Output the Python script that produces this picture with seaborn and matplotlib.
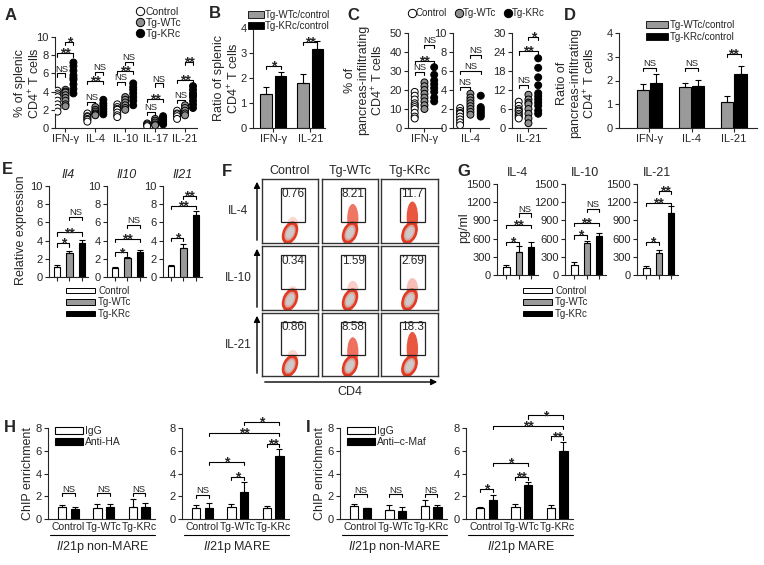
import numpy as np
import pandas as pd
import matplotlib
matplotlib.use('Agg')
import matplotlib.pyplot as plt
from matplotlib.patches import Patch, Rectangle, Ellipse
from matplotlib.lines import Line2D
import seaborn as sns

groups = ['Control', 'Tg-WTc', 'Tg-KRc']
group_colors = ['white', '#9a9a9a', 'black']

# A: % of splenic CD4+ T cells, per cytokine: [control, Tg-WTc, Tg-KRc]
a_cytokines = ['IFN-γ', 'IL-4', 'IL-10', 'IL-17', 'IL-21']
a_ifng = [[4.1, 3.8, 3.6, 3.4, 3.0, 2.6, 2.2, 1.8],
          [4.2, 4.0, 3.9, 3.6, 3.3, 3.0, 2.6, 2.4],
          [7.2, 6.8, 6.3, 5.8, 5.5, 5.3, 4.8, 4.3, 3.8]]
a_il4 = [[1.6, 1.3, 1.2, 1.0, 0.9, 0.7],
         [2.3, 2.0, 1.8, 1.6, 1.5, 1.4],
         [3.1, 2.7, 2.4, 2.1, 1.8, 1.5]]
a_il10 = [[2.6, 2.3, 2.1, 2.0, 1.7, 1.4, 1.2],
          [3.4, 3.1, 2.8, 2.5, 2.2, 2.0],
          [4.9, 4.5, 4.2, 3.8, 3.4, 3.0, 2.5]]
a_il17 = [[0.5, 0.4, 0.3, 0.2],
          [1.0, 0.8, 0.6, 0.4, 0.3],
          [1.3, 1.1, 0.9, 0.7, 0.5, 0.4]]
a_il21 = [[1.9, 1.6, 1.5, 1.3, 1.0],
          [2.5, 2.2, 1.9, 1.6, 1.4],
          [4.6, 4.2, 3.8, 3.6, 3.4, 3.0, 2.6, 2.2]]
a_sig = [(0, 0, 1, 6.0, 'NS'), (0, 0, 2, 8.2, '**'), (0, 1, 2, 9.45, '*'),
         (1, 0, 1, 2.85, 'NS'), (1, 0, 2, 5.2, '**'), (1, 1, 2, 6.15, 'NS'),
         (2, 0, 1, 5.05, 'NS'), (2, 0, 2, 6.3, '**'), (2, 1, 2, 7.25, 'NS'),
         (3, 0, 1, 1.75, 'NS'), (3, 0, 2, 3.2, '**'), (3, 1, 2, 4.9, 'NS'),
         (4, 0, 1, 3.1, 'NS'), (4, 0, 2, 5.3, '**'), (4, 1, 2, 7.25, '**')]

# B: ratio of splenic CD4+ T cells
b_cats = ['IFN-γ', 'IL-21']
b_wtc = [1.35, 1.8]
b_wtc_err = [0.3, 0.37]
b_krc = [2.1, 3.15]
b_krc_err = [0.15, 0.35]
b_sig = [(0, 2.5, '*'), (1, 3.45, '**')]

# C: % of pancreas-infiltrating CD4+ T cells
c_cytokines = ['IFN-γ', 'IL-4', 'IL-21']
c_ifng = [[19, 17, 15, 13, 12, 11, 10, 8, 6, 5],
          [24, 22, 20, 18, 16, 14, 12, 10],
          [32, 28, 25, 23, 21, 19, 16, 14]]
c_il4 = [[2.1, 1.8, 1.6, 1.5, 1.2, 0.9, 0.6, 0.3],
         [3.6, 3.2, 2.9, 2.6, 2.3, 2.0, 1.7, 1.4],
         [3.4, 2.2, 2.0, 1.8, 1.6, 1.4, 1.2]]
c_il21 = [[8.3, 7.0, 6.0, 5.5, 5.2, 4.5, 4.0, 3.5, 3.0],
          [10.5, 9.0, 8.0, 7.5, 6.0, 4.5, 3.0, 1.5],
          [22, 19, 16, 13.5, 11, 10, 9, 8, 7, 5.5, 4.5]]
c_ylims = [50, 10, 30]
c_yticks = [[0, 10, 20, 30, 40, 50], [0, 2, 4, 6, 8, 10], [0, 6, 12, 18, 24, 30]]
c_sig = [[(0, 1, 29.7, 'NS'), (0, 2, 35.5, '**'), (1, 2, 43.8, 'NS')],
         [(0, 1, 4.3, 'NS'), (0, 2, 6.0, 'NS'), (1, 2, 7.7, 'NS')],
         [(0, 1, 13.6, 'NS'), (0, 2, 24.2, '**'), (1, 2, 28.7, '*')]]

# D: ratio of pancreas-infiltrating CD4+ T cells
d_cats = ['IFN-γ', 'IL-4', 'IL-21']
d_wtc = [1.6, 1.72, 1.08]
d_wtc_err = [0.24, 0.17, 0.25]
d_krc = [1.88, 1.78, 2.28]
d_krc_err = [0.4, 0.24, 0.34]
d_sig = [(0, 2.52, 'NS'), (1, 2.52, 'NS'), (2, 3.12, '**')]

# E: relative expression
e_genes = ['Il4', 'Il10', 'Il21']
e_means = [[1.1, 2.6, 3.7], [1.0, 2.1, 2.8], [1.2, 3.15, 6.8]]
e_errs = [[0.2, 0.3, 0.35], [0.08, 0.15, 0.2], [0.15, 0.45, 0.4]]
e_sig = [[(0, 1, 3.7, '*'), (0, 2, 4.9, '**'), (1, 2, 6.6, 'NS')],
         [(0, 1, 2.7, '*'), (0, 2, 4.2, '**'), (1, 2, 5.7, 'NS')],
         [(0, 1, 4.3, '*'), (0, 2, 7.8, '**'), (1, 2, 8.9, '**')]]

# F: flow gates (%), rows IL-4 / IL-10 / IL-21
f_rows = ['IL-4', 'IL-10', 'IL-21']
f_gate = [[0.76, 8.21, 11.7], [0.34, 1.59, 2.69], [0.86, 8.58, 18.3]]

# G: ELISA pg/ml
g_cytokines = ['IL-4', 'IL-10', 'IL-21']
g_means = [[140, 375, 465], [170, 525, 635], [118, 360, 1020]]
g_errs = [[20, 100, 80], [38, 38, 55], [25, 55, 120]]
g_sig = [[(0, 1, 549, '*'), (0, 2, 824, '**'), (1, 2, 1016, 'NS')],
         [(0, 1, 654, '*'), (0, 2, 856, '**'), (1, 2, 1091, 'NS')],
         [(0, 1, 545, '*'), (0, 2, 1189, '**'), (1, 2, 1380, '**')]]

# H / I: ChIP enrichment
h_non_igg = [1.03, 0.94, 1.09]
h_non_igg_err = [0.2, 0.35, 0.65]
h_non_ha = [0.88, 1.03, 1.03]
h_non_ha_err = [0.15, 0.26, 0.35]
h_mare_igg = [0.94, 1.09, 1.0]
h_mare_igg_err = [0.3, 0.25, 0.12]
h_mare_ha = [1.0, 2.35, 5.5]
h_mare_ha_err = [0.38, 0.9, 0.65]
h_mare_sig = [(0, 0, 0, 1, 2.12, 'NS'), (1, 0, 1, 1, 3.68, '*'), (0, 1, 1, 1, 5.0, '*'),
              (2, 0, 2, 1, 6.62, '**'), (0, 1, 2, 1, 7.56, '**'), (1, 1, 2, 1, 8.53, '*')]
i_non_igg = [1.1, 0.79, 1.12]
i_non_igg_err = [0.25, 0.4, 0.56]
i_non_maf = [0.97, 0.7, 1.06]
i_non_maf_err = [0.03, 0.33, 0.18]
i_mare_igg = [1.0, 1.03, 1.0]
i_mare_igg_err = [0.09, 0.26, 0.24]
i_mare_maf = [1.68, 3.0, 6.0]
i_mare_maf_err = [0.44, 0.24, 0.76]
i_mare_sig = [(0, 0, 0, 1, 2.65, '*'), (1, 0, 1, 1, 3.68, '**'), (0, 1, 1, 1, 4.91, '*'),
              (2, 0, 2, 1, 7.26, '**'), (0, 1, 2, 1, 8.15, '**'), (1, 1, 2, 1, 9.1, '*')]

W, H = 764, 565
sns.set_style('ticks')
plt.rcParams['font.family'] = ['Liberation Sans', 'DejaVu Sans']
plt.rcParams['mathtext.fontset'] = 'custom'
plt.rcParams['mathtext.rm'] = 'Liberation Sans'
plt.rcParams['mathtext.it'] = 'Liberation Sans:italic'
plt.rcParams['axes.linewidth'] = 0.8

fig = plt.figure(figsize=(W / 100, H / 100), dpi=100)
ov = fig.add_axes([0, 0, 1, 1])
ov.set_xlim(0, W)
ov.set_ylim(H, 0)
ov.axis('off')


def px_axes(x0, y0, x1, y1):
  return fig.add_axes([x0 / W, 1 - y1 / H, (x1 - x0) / W, (y1 - y0) / H])


def style(ax, ymax, yticks):
  ax.set_ylim(0, ymax)
  ax.set_yticks(yticks)
  sns.despine(ax=ax)
  ax.tick_params(direction='out', length=3, width=0.8, labelsize=8, pad=1.5)
  ax.set_xlabel('')
  ax.set_ylabel('')
  ax.patch.set_alpha(0)


def bracket(ax, x1, x2, y, txt):
  dh = 0.035 * ax.get_ylim()[1]
  ax.plot([x1, x1, x2, x2], [y - dh, y, y, y - dh], color='black', lw=0.8, clip_on=False)
  if 'NS' in txt:
    ax.annotate(txt, ((x1 + x2) / 2, y), xytext=(0, 1.2), textcoords='offset points',
                ha='center', va='baseline', fontsize=6.8, annotation_clip=False)
  else:
    ax.annotate(txt, ((x1 + x2) / 2, y), xytext=(0, -3.3), textcoords='offset points',
                ha='center', va='baseline', fontsize=10, fontweight='bold',
                annotation_clip=False)


def dot_panel(ax, cats, lists):
  rows = []
  for cat, vals in zip(cats, lists):
    for g, v in zip(groups, vals):
      for x in v:
        rows.append((cat, g, x))
  df = pd.DataFrame(rows, columns=['cytokine', 'group', 'value'])
  sns.stripplot(data=df, x='cytokine', y='value', hue='group', hue_order=groups,
                palette=['white', '#8f8f8f', 'black'], dodge=True, jitter=False,
                size=5, edgecolor='black', linewidth=0.7, legend=False, ax=ax)


def group_bars(ax, means, errs, width=0.72, gap=0.28):
  df = pd.DataFrame({'group': groups, 'value': means})
  sns.barplot(data=df, x='group', y='value', hue='group', order=groups, hue_order=groups,
              palette=group_colors, width=width, gap=gap, edgecolor='black',
              linewidth=0.8, errorbar=None, legend=False, ax=ax)
  for cont, e in zip(ax.containers, errs):
    for bar in cont:
      ax.errorbar(bar.get_x() + bar.get_width() / 2, bar.get_height(), yerr=[[0], [e]],
                  color='black', capsize=2, lw=0.8, capthick=0.8)


def pair_bars(ax, cats, hues, first, first_err, second, second_err, colors, width, gap):
  df = pd.DataFrame({'cat': cats * 2, 'hue': [hues[0]] * len(cats) + [hues[1]] * len(cats),
                     'value': first + second})
  sns.barplot(data=df, x='cat', y='value', hue='hue', order=cats, hue_order=hues,
              palette=colors, width=width, gap=gap, edgecolor='black', linewidth=0.8,
              errorbar=None, legend=False, ax=ax)
  for cont, errs in zip(ax.containers, [first_err, second_err]):
    for bar, e in zip(cont, errs):
      ax.errorbar(bar.get_x() + bar.get_width() / 2, bar.get_height(), yerr=[[0], [e]],
                  color='black', capsize=2, lw=0.8, capthick=0.8)


dot_handles = [Line2D([], [], ls='', marker='o', ms=6, mfc=c, mec='black', mew=0.7)
               for c in ['white', '#8f8f8f', 'black']]

# ---- A
ax = px_axes(55, 37, 197, 128)
dot_panel(ax, a_cytokines, [a_ifng, a_il4, a_il10, a_il17, a_il21])
style(ax, 10, [0, 2, 4, 6, 8, 10])
ax.set_xlim(-0.35, 4.4)
off = 0.8 / 3
for c, g1, g2, y, t in a_sig:
  bracket(ax, c + (g1 - 1) * off, c + (g2 - 1) * off, y, t)
ov.text(28, 83, '% of splenic\nCD4$^{+}$ T cells', rotation=90, ha='center', va='center',
        fontsize=9, linespacing=1.1)
fig.legend(dot_handles, groups, loc='upper left', bbox_to_anchor=(137 / W, 1 - 7 / H),
           frameon=False, fontsize=7.5, handlelength=0.6, handletextpad=0.2,
           labelspacing=0.1, borderpad=0, borderaxespad=0)

# ---- B
ax = px_axes(253, 28, 325, 128)
pair_bars(ax, b_cats, ['Tg-WTc/control', 'Tg-KRc/control'], b_wtc, b_wtc_err, b_krc,
          b_krc_err, ['#9a9a9a', 'black'], 0.78, 0.2)
style(ax, 4, [0, 1, 2, 3, 4])
ax.set_xlim(-0.55, 1.4)
for c, y, t in b_sig:
  bracket(ax, c - 0.195, c + 0.195, y, t)
ov.text(227, 78, 'Ratio of splenic\nCD4$^{+}$ T cells', rotation=90, ha='center',
        va='center', fontsize=9, linespacing=1.1)
fig.legend([Patch(fc='#9a9a9a', ec='black', lw=0.6), Patch(fc='black', ec='black', lw=0.6)],
           ['Tg-WTc/control', 'Tg-KRc/control'], loc='upper left',
           bbox_to_anchor=(248 / W, 1 - 10 / H), frameon=False, fontsize=7,
           handlelength=1.6, handleheight=0.6, handletextpad=0.1, labelspacing=0.1,
           borderpad=0, borderaxespad=0)

# ---- C
c_pos = [(408, 442), (453, 489), (512, 546)]
for k, (cyt, lists) in enumerate(zip(c_cytokines, [c_ifng, c_il4, c_il21])):
  ax = px_axes(c_pos[k][0], 33, c_pos[k][1], 128)
  dot_panel(ax, [cyt], [lists])
  style(ax, c_ylims[k], c_yticks[k])
  ax.set_xlim(-0.45, 0.48)
  for g1, g2, y, t in c_sig[k]:
    bracket(ax, (g1 - 1) * off, (g2 - 1) * off, y, t)
ov.text(365, 80, '% of\npancreas-infiltrating\nCD4$^{+}$ T cells', rotation=90,
        ha='center', va='center', fontsize=9, linespacing=1.1)
fig.legend(dot_handles, groups, loc='upper left', bbox_to_anchor=(409 / W, 1 - 8 / H),
           ncol=3, frameon=False, fontsize=7, handlelength=0.6, handletextpad=0.1,
           columnspacing=0.9, borderpad=0, borderaxespad=0)

# ---- D
ax = px_axes(619, 33, 757, 128)
pair_bars(ax, d_cats, ['Tg-WTc/control', 'Tg-KRc/control'], d_wtc, d_wtc_err, d_krc,
          d_krc_err, ['#9a9a9a', 'black'], 0.64, 0.1)
style(ax, 4, [0, 1, 2, 3, 4])
ax.set_xlim(-0.72, 2.55)
for c, y, t in d_sig:
  bracket(ax, c - 0.16, c + 0.16, y, t)
ov.text(577, 83, 'Ratio of\npancreas-infiltrating\nCD4$^{+}$ T cells', rotation=90,
        ha='center', va='center', fontsize=9, linespacing=1.1)
fig.legend([Patch(fc='#9a9a9a', ec='black', lw=0.6), Patch(fc='black', ec='black', lw=0.6)],
           ['Tg-WTc/control', 'Tg-KRc/control'], loc='upper left',
           bbox_to_anchor=(646 / W, 1 - 20 / H), frameon=False, fontsize=7,
           handlelength=2.3, handleheight=0.6, handletextpad=0.1, labelspacing=0.2,
           borderpad=0, borderaxespad=0)

bar_handles = [Patch(fc=c, ec='black', lw=0.7) for c in group_colors]

# ---- E
for k, x0 in enumerate([49, 107, 163]):
  ax = px_axes(x0, 186, x0 + 39, 277)
  group_bars(ax, e_means[k], e_errs[k])
  style(ax, 10, [0, 2, 4, 6, 8, 10])
  ax.set_xlim(-0.65, 2.5)
  ax.set_xticklabels([])
  ax.set_title(e_genes[k], fontsize=9, style='italic', pad=6)
  for g1, g2, y, t in e_sig[k]:
    bracket(ax, g1, g2, y, t)
ov.text(21, 230, 'Relative expression', rotation=90, ha='center', va='center', fontsize=9)
fig.legend(bar_handles, groups, loc='upper left', bbox_to_anchor=(66 / W, 1 - 286 / H),
           frameon=False, fontsize=7, handlelength=3.0, handleheight=0.55,
           handletextpad=0.3, labelspacing=0.15, borderpad=0, borderaxespad=0)

# ---- F
f_x = [(262, 318), (322, 378), (381, 438)]
f_y = [(179, 243), (246, 310), (313, 376)]
for r in range(3):
  for c in range(3):
    fa = px_axes(f_x[c][0], f_y[r][0], f_x[c][1], f_y[r][1])
    fa.set_xlim(0, 1)
    fa.set_ylim(0, 1)
    fa.set_xticks([])
    fa.set_yticks([])
    for s in fa.spines.values():
      s.set_color('#333333')
      s.set_linewidth(1.0)
    pct = f_gate[r][c]
    tail = 0.1 + 0.28 * np.log10(1 + pct)
    fa.add_patch(Ellipse((0.55, 0.2 + tail / 2), 0.2, tail + 0.08, color='#e8452c',
                         alpha=min(0.9, 0.15 + pct / 14), lw=0))
    fa.add_patch(Ellipse((0.5, 0.16), 0.38, 0.26, angle=60, color='#e23b24', lw=0))
    fa.add_patch(Ellipse((0.5, 0.16), 0.27, 0.17, angle=60, color='#d9a49c', lw=0))
    fa.add_patch(Ellipse((0.5, 0.16), 0.2, 0.12, angle=60, color='#cfcaca', lw=0))
    fa.add_patch(Rectangle((0.34, 0.33), 0.43, 0.53, fill=False, ec='#222222', lw=0.9))
    fa.text(0.555, 0.77, str(pct), ha='center', va='center', fontsize=8.5)
  ov.text(238, (f_y[r][0] + f_y[r][1]) / 2, f_rows[r], ha='center', va='center', fontsize=8.5)
  ov.annotate('', xy=(257, f_y[r][0]), xytext=(257, f_y[r][1]),
              arrowprops=dict(arrowstyle='-|>', color='black', lw=1, mutation_scale=9))
for c in range(3):
  ov.text((f_x[c][0] + f_x[c][1]) / 2, 171, groups[c], ha='center', va='center', fontsize=9)
ov.annotate('', xy=(440, 382), xytext=(262, 382),
            arrowprops=dict(arrowstyle='-|>', color='black', lw=1, mutation_scale=9))
ov.text(350, 392, 'CD4', ha='center', va='center', fontsize=9)

# ---- G
for k, x0 in enumerate([497, 565, 637]):
  ax = px_axes(x0, 184, x0 + 41, 275)
  group_bars(ax, g_means[k], g_errs[k])
  style(ax, 1500, [0, 300, 600, 900, 1200, 1500])
  ax.set_xlim(-0.75, 2.55)
  ax.set_xticklabels([])
  ax.set_title(g_cytokines[k], fontsize=9, pad=6)
  for g1, g2, y, t in g_sig[k]:
    bracket(ax, g1, g2, y, t)
ov.text(464, 228, 'pg/ml', rotation=90, ha='center', va='center', fontsize=9)
fig.legend(bar_handles, groups, loc='upper left', bbox_to_anchor=(523 / W, 1 - 286 / H),
           frameon=False, fontsize=7, handlelength=3.0, handleheight=0.55,
           handletextpad=0.3, labelspacing=0.15, borderpad=0, borderaxespad=0)

# ---- H / I
chip = [
  (48, h_non_igg, h_non_igg_err, h_non_ha, h_non_ha_err, None, 2.26, 'Anti-HA'),
  (182, h_mare_igg, h_mare_igg_err, h_mare_ha, h_mare_ha_err, h_mare_sig, None, None),
  (340, i_non_igg, i_non_igg_err, i_non_maf, i_non_maf_err, None, 2.18, 'Anti–c-Maf'),
  (466, i_mare_igg, i_mare_igg_err, i_mare_maf, i_mare_maf_err, i_mare_sig, None, None),
]
hoff = 0.72 / 4
for x0, igg, igg_e, ab, ab_e, sig, ns_y, ab_name in chip:
  ax = px_axes(x0, 428, x0 + 107, 519)
  pair_bars(ax, groups, ['IgG', 'Ab'], igg, igg_e, ab, ab_e, ['white', 'black'], 0.72, 0.36)
  style(ax, 8, [0, 2, 4, 6, 8])
  ax.set_xlim(-0.58, 2.45)
  ax.tick_params(axis='x', length=0, labelsize=7.5, pad=2)
  if sig is None:
    for c in range(3):
      bracket(ax, c - hoff, c + hoff, ns_y, 'NS')
    ax.legend([Patch(fc='white', ec='black', lw=0.8), Patch(fc='black', ec='black', lw=0.8)],
              ['IgG', ab_name], loc='upper left', bbox_to_anchor=(0.07, 1.02),
              frameon=False, fontsize=7.5, handlelength=2.6, handleheight=0.6,
              handletextpad=0.2, labelspacing=0.1, borderpad=0, borderaxespad=0)
    label = '$\\it{Il21}$p non-MARE'
  else:
    for c1, h1, c2, h2, y, t in sig:
      bracket(ax, c1 + (h1 - 0.5) * 2 * hoff, c2 + (h2 - 0.5) * 2 * hoff, y, t)
    label = '$\\it{Il21}$p MARE'
  ov.plot([x0 + 2, x0 + 107], [535, 535], color='black', lw=0.8)
  ov.text(x0 + 55, 547, label, ha='center', va='center', fontsize=9)
ov.text(28, 474, 'ChIP enrichment', rotation=90, ha='center', va='center', fontsize=9)
ov.text(320, 474, 'ChIP enrichment', rotation=90, ha='center', va='center', fontsize=9)

# ---- panel letters
for letter, x, y in [('A', 5, 15), ('B', 209, 13), ('C', 347, 15), ('D', 564, 15),
                     ('E', 2, 170), ('F', 222, 171), ('G', 457, 171), ('H', 4, 427),
                     ('I', 306, 427)]:
  ov.text(x, y, letter, ha='left', va='center', fontsize=12, fontweight='bold')

plt.savefig('out.png', dpi=100)
plt.close()
